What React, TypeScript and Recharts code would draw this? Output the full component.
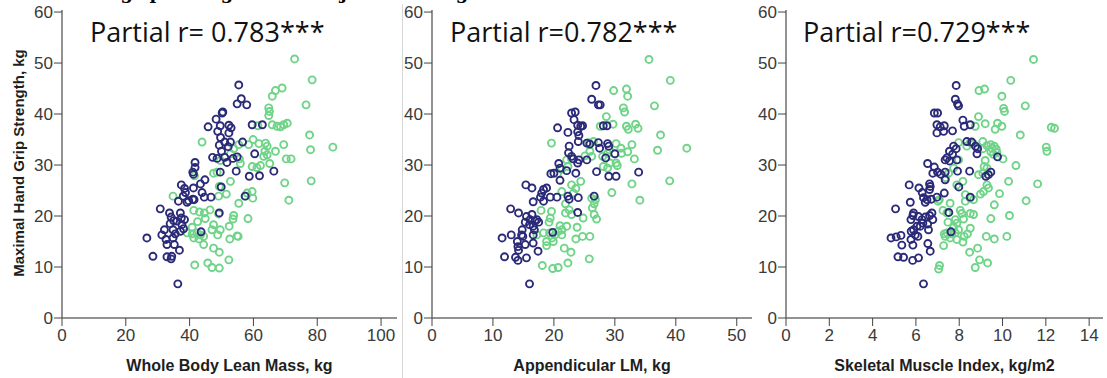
import React from 'react';
import { ScatterChart, Scatter, XAxis, YAxis } from 'recharts';

type Pt = [number, number];

const gripTicks = [0, 10, 20, 30, 40, 50, 60];
const leanTicks = [0, 20, 40, 60, 80, 100];
const appTicks = [0, 10, 20, 30, 40, 50];
const smiTicks = [0, 2, 4, 6, 8, 10, 12, 14];

const rLabels = ['Partial r= 0.783***', 'Partial r=0.782***', 'Partial r=0.729***'];
const xTitles = ['Whole Body Lean Mass, kg', 'Appendicular LM, kg', 'Skeletal Muscle Index, kg/m2'];
const yTitle = 'Maximal Hand Grip Strength, kg';
const topTitle = 'Hand grip strength after adjusted for age and';

// whole body lean mass (kg) vs grip (kg)
const leanNavy: Pt[] = [
  [55.4, 45.7], [56.2, 43.0], [54.9, 42.0], [57.9, 41.8], [50.4, 40.4], [50.2, 40.2], [48.3, 39.0],
  [45.8, 37.5], [49.6, 37.7], [52.3, 37.8], [53.0, 37.3], [48.8, 36.6], [52.3, 36.3], [59.6, 37.9],
  [62.8, 37.9], [49.7, 35.4], [51.0, 34.5], [52.8, 34.5], [56.6, 34.5], [49.3, 33.9], [50.0, 32.7],
  [52.1, 33.6], [47.2, 31.5], [48.6, 31.3], [51.0, 31.5], [53.6, 31.3], [54.9, 31.6], [60.4, 32.2],
  [51.7, 30.5], [49.6, 28.6], [54.6, 28.8], [58.7, 27.8], [61.9, 27.9], [66.4, 28.8], [41.7, 30.5],
  [41.7, 29.5], [41.0, 28.6], [41.2, 28.2], [44.8, 27.1], [43.4, 26.3], [41.2, 25.5], [37.4, 26.1],
  [38.4, 25.4], [38.7, 24.6], [38.0, 23.9], [43.9, 24.6], [44.6, 23.7], [46.7, 23.7], [41.0, 23.3],
  [39.7, 23.0], [39.2, 22.7], [36.5, 22.9], [41.4, 23.2], [49.9, 25.7], [57.4, 23.9], [49.3, 20.6],
  [30.8, 21.4], [33.7, 20.6], [34.2, 19.8], [35.0, 19.1], [33.9, 18.5], [37.1, 20.6], [37.4, 19.6],
  [36.0, 19.0], [37.6, 18.3], [38.4, 19.3], [38.1, 17.5], [34.8, 17.3], [35.5, 16.5], [32.1, 17.3],
  [31.3, 16.3], [32.6, 15.4], [32.9, 14.4], [34.8, 15.7], [35.2, 14.4], [37.1, 17.0], [36.8, 13.3],
  [26.6, 15.7], [28.5, 12.1], [32.9, 12.0], [34.2, 11.6], [34.4, 12.1], [36.3, 6.7], [43.6, 16.9],
];
const leanGreen: Pt[] = [
  [72.9, 50.8], [78.4, 46.7], [69.0, 45.1], [66.9, 44.6], [65.9, 43.5], [76.5, 41.8], [64.8, 41.2],
  [65.0, 40.5], [64.8, 39.7], [61.4, 37.7], [65.9, 37.9], [67.4, 37.6], [68.5, 37.5], [69.5, 37.9],
  [70.6, 38.2], [77.6, 35.9], [43.9, 34.5], [59.9, 35.0], [58.5, 34.0], [61.7, 34.2], [63.8, 34.3],
  [64.3, 33.7], [63.6, 32.7], [64.3, 32.0], [63.2, 31.7], [55.4, 34.0], [53.8, 33.2], [52.8, 32.2],
  [69.5, 34.0], [66.9, 32.7], [77.9, 33.0], [84.9, 33.5], [70.3, 31.2], [71.8, 31.2], [65.1, 30.3],
  [59.6, 29.7], [61.1, 29.5], [62.2, 29.9], [55.6, 31.2], [55.9, 30.3], [49.6, 30.9], [48.6, 28.6],
  [47.5, 28.4], [41.5, 27.9], [69.8, 26.5], [78.1, 26.9], [52.8, 26.8], [49.3, 25.8], [51.5, 24.3],
  [49.1, 23.9], [34.8, 23.9], [58.0, 24.5], [59.6, 24.8], [59.8, 23.5], [57.5, 23.9], [55.4, 22.5],
  [71.1, 23.1], [41.3, 21.1], [43.1, 20.8], [44.6, 20.6], [46.4, 21.2], [49.1, 20.4], [53.8, 20.1],
  [53.6, 19.4], [58.3, 19.5], [44.9, 19.5], [42.5, 18.9], [40.8, 17.8], [39.2, 16.7], [40.8, 16.5],
  [42.3, 16.7], [43.4, 16.3], [41.3, 15.7], [44.4, 16.0], [42.9, 15.5], [44.4, 14.4], [47.0, 17.3],
  [47.5, 18.3], [49.6, 17.3], [48.8, 16.3], [52.4, 18.0], [52.6, 15.5], [54.9, 16.1], [55.2, 16.0],
  [47.5, 13.7], [49.3, 12.9], [52.3, 11.4], [41.6, 10.4], [45.7, 10.8], [47.0, 9.9], [49.3, 9.8],
];

// appendicular lean mass (kg) vs grip (kg)
const appNavy: Pt[] = [
  [26.9, 45.6], [26.2, 42.9], [27.3, 41.8], [27.6, 41.8], [22.9, 40.2], [23.5, 40.4], [23.3, 38.9],
  [23.9, 37.8], [24.4, 37.6], [24.7, 37.7], [20.6, 37.3], [22.3, 36.4], [23.9, 36.5], [24.1, 35.8],
  [28.1, 37.7], [28.7, 37.7], [24.0, 34.6], [25.4, 34.3], [25.9, 34.1], [27.3, 34.4], [27.5, 33.3],
  [28.8, 34.2], [29.0, 33.7], [30.0, 32.2], [22.5, 33.7], [22.4, 32.4], [22.9, 31.7], [23.2, 31.2],
  [23.9, 30.4], [24.1, 31.0], [25.4, 31.0], [28.5, 31.4], [20.8, 30.3], [21.0, 29.4], [20.0, 28.4],
  [19.5, 28.3], [23.6, 28.4], [22.1, 28.9], [27.0, 28.7], [29.0, 27.8], [30.2, 27.8], [33.9, 28.6],
  [21.0, 27.0], [15.4, 26.1], [16.4, 25.5], [18.3, 25.2], [18.8, 25.5], [18.0, 24.5], [17.8, 23.7],
  [18.3, 22.9], [16.6, 22.8], [19.4, 23.7], [20.5, 23.7], [22.3, 23.9], [22.5, 23.3], [24.0, 23.6],
  [26.6, 23.9], [23.9, 20.7], [12.9, 21.4], [14.2, 20.6], [15.5, 19.9], [16.4, 20.3], [16.1, 19.3],
  [16.9, 19.0], [15.3, 18.8], [16.0, 18.3], [16.6, 18.0], [17.2, 19.3], [14.8, 17.3], [14.9, 16.0],
  [16.8, 17.3], [14.7, 16.3], [14.0, 15.0], [16.6, 14.7], [15.3, 14.4], [16.6, 16.3], [17.5, 18.8],
  [11.5, 15.7], [13.0, 16.3], [14.1, 14.0], [14.2, 13.3], [15.5, 11.8], [11.9, 12.0], [13.7, 11.9],
  [14.1, 11.3], [17.4, 13.1], [16.0, 6.7], [19.8, 16.8],
];
const appGreen: Pt[] = [
  [35.6, 50.7], [39.1, 46.6], [29.8, 44.6], [31.9, 44.9], [32.1, 43.5], [36.5, 41.6], [31.4, 41.2],
  [31.6, 40.4], [28.6, 39.5], [27.6, 37.6], [29.7, 38.0], [31.9, 37.6], [32.2, 37.0], [33.4, 38.0],
  [33.8, 37.2], [37.5, 35.9], [19.6, 34.3], [25.7, 34.4], [26.5, 34.6], [30.2, 34.2], [31.0, 33.3],
  [31.1, 32.3], [32.1, 32.6], [32.8, 34.0], [37.0, 32.9], [41.8, 33.3], [33.2, 31.2], [29.1, 33.0],
  [28.8, 32.3], [28.0, 31.7], [29.2, 30.4], [30.2, 30.4], [30.4, 29.9], [25.9, 32.7], [25.1, 31.8],
  [26.2, 31.7], [22.9, 31.2], [22.1, 31.0], [22.3, 29.7], [28.1, 29.7], [28.8, 29.4], [21.3, 29.2],
  [20.6, 28.3], [32.8, 26.3], [39.0, 26.9], [24.4, 26.8], [22.9, 26.1], [23.6, 25.4], [21.3, 24.8],
  [23.2, 24.5], [29.5, 24.6], [26.2, 23.5], [26.8, 23.2], [26.6, 22.4], [26.3, 21.6], [34.1, 23.1],
  [21.9, 22.4], [22.5, 21.2], [17.9, 21.1], [19.6, 20.9], [19.4, 19.6], [19.2, 18.8], [21.9, 20.6],
  [22.9, 20.3], [24.8, 19.6], [26.6, 20.3], [27.0, 19.4], [21.0, 18.1], [21.3, 17.3], [20.7, 17.0],
  [22.1, 18.0], [23.8, 17.8], [17.2, 16.3], [18.3, 16.7], [19.3, 16.7], [20.2, 16.3], [21.3, 16.3],
  [19.7, 15.7], [18.8, 15.0], [23.6, 15.5], [24.7, 16.0], [25.9, 16.0], [21.7, 13.7], [18.8, 14.2],
  [19.9, 15.0], [22.8, 12.9], [25.8, 11.6], [18.1, 10.3], [19.8, 9.7], [20.7, 9.9], [22.3, 10.8],
];

// skeletal muscle index (kg/m2) vs grip (kg)
const smiNavy: Pt[] = [
  [7.86, 45.6], [7.82, 42.9], [7.92, 42.0], [7.97, 41.6], [6.85, 40.2], [7.0, 40.2], [6.97, 37.9],
  [7.12, 37.5], [7.31, 37.7], [7.28, 36.6], [7.69, 36.7], [6.97, 36.3], [8.17, 38.8], [8.23, 37.6],
  [8.51, 37.9], [8.35, 34.6], [8.58, 34.5], [8.75, 33.7], [8.85, 33.2], [8.82, 32.2], [9.77, 31.6],
  [7.74, 33.7], [7.86, 33.2], [7.55, 32.7], [7.69, 32.1], [7.43, 31.4], [7.35, 31.0], [7.55, 30.8],
  [7.89, 31.0], [6.54, 30.3], [6.85, 29.6], [7.0, 28.6], [6.78, 28.4], [7.15, 28.2], [7.35, 28.6],
  [7.92, 28.8], [8.48, 28.8], [9.23, 27.8], [9.35, 28.1], [9.46, 28.6], [7.98, 25.7], [7.35, 27.1],
  [5.69, 26.1], [6.14, 25.5], [6.29, 24.6], [6.63, 26.3], [6.66, 25.8], [6.63, 25.2], [6.35, 23.6],
  [6.51, 23.2], [6.43, 22.7], [6.71, 23.3], [6.97, 23.7], [7.31, 24.5], [8.51, 23.7], [5.74, 22.7],
  [5.06, 21.4], [5.89, 20.6], [5.86, 20.1], [5.77, 19.3], [6.12, 19.9], [6.28, 19.3], [6.43, 19.8],
  [6.74, 20.6], [6.78, 19.3], [6.63, 20.1], [6.32, 18.6], [6.2, 18.0], [5.89, 17.3], [6.05, 18.0],
  [6.54, 18.4], [5.78, 17.0], [5.97, 16.3], [5.77, 15.4], [6.09, 16.0], [6.58, 17.3], [7.52, 20.7],
  [4.85, 15.7], [5.09, 15.9], [5.31, 16.2], [5.35, 14.3], [5.86, 14.3], [6.55, 14.6], [6.66, 13.1],
  [5.17, 12.0], [5.43, 11.9], [5.85, 11.3], [6.12, 11.8], [6.35, 6.7], [7.62, 16.9],
];
const smiGreen: Pt[] = [
  [11.43, 50.7], [10.38, 46.6], [8.91, 44.6], [9.17, 44.9], [9.97, 43.5], [11.05, 41.6], [10.05, 41.1],
  [10.09, 40.5], [8.89, 39.5], [9.2, 38.1], [8.74, 37.6], [9.77, 38.2], [9.97, 37.6], [9.66, 37.0],
  [12.25, 37.4], [12.4, 37.2], [10.82, 35.9], [7.97, 34.4], [8.35, 33.7], [8.51, 34.4], [8.66, 34.2],
  [9.09, 34.6], [9.28, 33.8], [9.46, 34.0], [9.51, 33.3], [9.62, 33.7], [9.71, 33.1], [9.46, 32.6],
  [9.58, 32.1], [9.74, 32.4], [9.09, 33.2], [10.02, 31.2], [12.02, 33.5], [12.05, 32.7], [10.62, 29.9],
  [9.2, 30.9], [9.15, 29.7], [9.28, 29.4], [9.09, 28.4], [8.89, 28.1], [7.97, 31.0], [7.74, 29.4],
  [7.51, 28.4], [7.38, 27.5], [8.17, 26.8], [7.89, 26.1], [10.28, 26.8], [11.62, 26.3], [11.09, 23.0],
  [9.28, 26.1], [9.35, 25.5], [9.12, 24.8], [8.98, 24.3], [8.28, 24.2], [8.51, 23.5], [8.66, 23.2],
  [8.28, 22.9], [9.86, 24.4], [9.62, 22.2], [7.08, 23.2], [7.02, 22.9], [7.58, 22.5], [7.25, 21.1],
  [7.43, 20.6], [8.05, 21.1], [8.12, 20.5], [8.51, 20.5], [8.66, 20.3], [8.2, 19.4], [9.46, 19.5],
  [10.32, 20.1], [7.48, 18.8], [7.82, 19.3], [7.89, 18.6], [7.74, 17.8], [7.97, 17.3], [7.82, 16.7],
  [7.43, 16.7], [7.35, 16.0], [7.31, 16.5], [7.66, 16.5], [7.58, 15.7], [8.23, 16.0], [8.51, 17.6],
  [8.38, 16.5], [7.89, 15.4], [8.17, 14.9], [7.28, 14.2], [9.25, 16.0], [9.62, 15.5], [10.2, 16.0],
  [8.48, 12.9], [8.85, 13.7], [8.94, 11.4], [9.31, 10.8], [8.74, 9.9], [7.09, 10.3], [7.05, 9.6],
];

const NAVY = '#2b2a78';
const GREEN = '#6fd488';
const FRAME = '#6e6e6e';
const TICKTXT = '#3a3a3a';
const ARIAL = 'Arial, "Liberation Sans", sans-serif';

const toRows = (pts: Pt[]) => pts.map(([x, y]) => ({ x, y }));

const ring = (color: string) => (props: any) => (
  <circle cx={props.cx} cy={props.cy} r={3.5} fill="none" stroke={color} strokeWidth={1.9} />
);

const tickStyle = { fill: TICKTXT, fontSize: 17, fontFamily: ARIAL };

type PanelProps = {
  left: number;
  width: number;
  yAxisW: number;
  rightM: number;
  xMax: number;
  xTicks: number[];
  navy: Pt[];
  green: Pt[];
  xTitle: string;
};

function Panel({ left, width, yAxisW, rightM, xMax, xTicks, navy, green, xTitle }: PanelProps) {
  return (
    <div style={{ position: 'absolute', left, top: 0 }}>
      <ScatterChart width={width} height={378} margin={{ top: 10, right: rightM, bottom: 0, left: 0 }}>
        <XAxis
          dataKey="x"
          type="number"
          domain={[0, xMax]}
          ticks={xTicks}
          allowDataOverflow
          height={60}
          tick={tickStyle}
          tickSize={8}
          tickMargin={3}
          tickLine={{ stroke: '#444' }}
          axisLine={{ stroke: FRAME, strokeWidth: 1.5 }}
          label={{
            value: xTitle,
            position: 'insideBottom',
            offset: 7,
            style: { fill: '#1e1e1e', fontSize: 16, fontWeight: 700, fontFamily: ARIAL },
          }}
        />
        <XAxis
          xAxisId="top"
          orientation="top"
          type="number"
          dataKey="x"
          domain={[0, xMax]}
          height={0}
          tick={false}
          tickLine={false}
          axisLine={{ stroke: FRAME, strokeWidth: 1.5 }}
        />
        <YAxis
          dataKey="y"
          type="number"
          domain={[0, 60.4]}
          ticks={gripTicks}
          allowDataOverflow
          width={yAxisW}
          tick={tickStyle}
          tickSize={8}
          tickMargin={1}
          tickLine={{ stroke: '#444' }}
          axisLine={{ stroke: FRAME, strokeWidth: 1.5 }}
        />
        <YAxis
          yAxisId="right"
          orientation="right"
          type="number"
          dataKey="y"
          domain={[0, 60.4]}
          width={0}
          tick={false}
          tickLine={false}
          axisLine={{ stroke: FRAME, strokeWidth: 1.5 }}
        />
        <Scatter data={toRows(green)} shape={ring(GREEN)} isAnimationActive={false} />
        <Scatter data={toRows(navy)} shape={ring(NAVY)} isAnimationActive={false} />
      </ScatterChart>
    </div>
  );
}

const rStyle: React.CSSProperties = {
  position: 'absolute',
  top: 15,
  fontFamily: '"Open Sans", "Noto Sans", sans-serif',
  fontSize: 27,
  color: '#111',
  whiteSpace: 'nowrap',
  lineHeight: '34px',
};

export default function App() {
  return (
    <div
      style={{
        position: 'absolute',
        left: 0,
        top: 0,
        width: 1107,
        height: 378,
        overflow: 'hidden',
        background: '#fff',
      }}
    >
      <div style={{ position: 'absolute', left: 402, top: 4, width: 1, height: 374, background: '#d6d6d6' }} />
      <Panel left={0} width={400} yAxisW={62} rightM={3} xMax={105} xTicks={leanTicks} navy={leanNavy} green={leanGreen} xTitle={xTitles[0]} />
      <Panel left={398} width={362} yAxisW={34} rightM={8} xMax={52.5} xTicks={appTicks} navy={appNavy} green={appGreen} xTitle={xTitles[1]} />
      <Panel left={755} width={352} yAxisW={31} rightM={4} xMax={14.64} xTicks={smiTicks} navy={smiNavy} green={smiGreen} xTitle={xTitles[2]} />
      <div
        style={{
          position: 'absolute',
          left: 60,
          top: -18,
          fontFamily: '"DejaVu Serif", "Liberation Serif", serif',
          fontWeight: 700,
          fontSize: 18,
          lineHeight: '22px',
          whiteSpace: 'nowrap',
          color: '#000',
        }}
      >
        {topTitle}
      </div>
      <div style={{ ...rStyle, left: 90 }}>{rLabels[0]}</div>
      <div style={{ ...rStyle, left: 450 }}>{rLabels[1]}</div>
      <div style={{ ...rStyle, left: 803 }}>{rLabels[2]}</div>
      <div
        style={{
          position: 'absolute',
          left: 18,
          top: 163,
          transform: 'translate(-50%, -50%) rotate(-90deg)',
          fontFamily: ARIAL,
          fontWeight: 700,
          fontSize: 15,
          color: '#1e1e1e',
          whiteSpace: 'nowrap',
        }}
      >
        {yTitle}
      </div>
    </div>
  );
}
